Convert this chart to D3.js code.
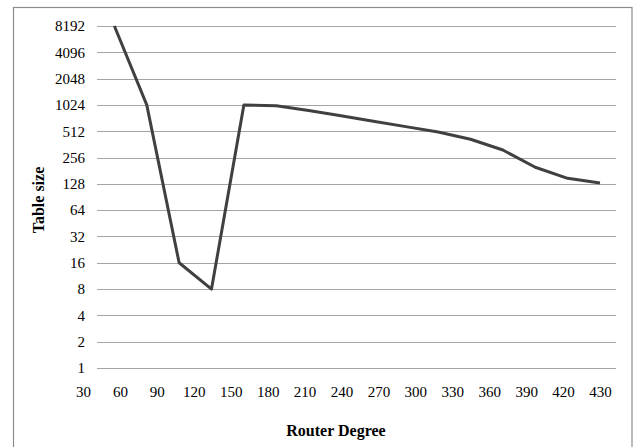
<!DOCTYPE html>
<html>
<head>
<meta charset="utf-8">
<script src="https://cdn.jsdelivr.net/npm/d3@7"></script>
<style>
  html, body { margin: 0; padding: 0; background: #fff; }
  svg { display: block; }
  text { font-family: "Liberation Serif", "Times New Roman", serif; fill: #000; }
</style>
</head>
<body>
<svg id="chart" width="635" height="447"></svg>
<script>
// ---- data ----
const xTickLabels = [30, 60, 90, 120, 150, 180, 210, 240, 270, 300, 330, 360, 390, 420, 430];
const yTickValues = [1, 2, 4, 8, 16, 32, 64, 128, 256, 512, 1024, 2048, 4096, 8192];
const routerDegree = [55, 80, 105, 130, 155, 180, 205, 230, 255, 280, 305, 330, 355, 380, 405, 430];
const tableSize = [8192, 1024, 16, 8, 1024, 1000, 883, 769, 665, 578, 501, 414, 312, 198, 148, 131];
const xTitle = "Router Degree";
const yTitle = "Table size";

// ---- layout ----
const svg = d3.select("#chart");
const plot = { left: 97, right: 616, top: 26, bottom: 368 };
const serif = '"Liberation Serif", "Times New Roman", serif';

// outer frame
svg.append("rect")
  .attr("x", 13.5).attr("y", 7.5)
  .attr("width", 618.5).attr("height", 450)
  .attr("fill", "none").attr("stroke", "#8c8c8c").attr("stroke-width", 1.2);

const y = d3.scaleLog().base(2).domain([1, 8192]).range([plot.bottom, plot.top]);
const xLabelScale = d3.scalePoint().domain(xTickLabels).range([83, 600]);
const x = d3.scaleLinear().domain([30, 430]).range([82, 600]);

// gridlines
svg.append("g").selectAll("line")
  .data(yTickValues)
  .join("line")
  .attr("x1", plot.left).attr("x2", plot.right)
  .attr("y1", d => Math.round(y(d)) + 0.5).attr("y2", d => Math.round(y(d)) + 0.5)
  .attr("stroke", "#a4a4a4").attr("stroke-width", 1.2);

// y axis labels
const yAxis = svg.append("g")
  .attr("transform", `translate(${plot.left},0)`)
  .call(d3.axisLeft(y).tickValues(yTickValues).tickFormat(d3.format("d")).tickSize(0).tickPadding(12));
yAxis.select(".domain").remove();
yAxis.selectAll("text").style("font-size", "15px").style("font-family", serif).attr("fill", "#000");

// x axis labels
const xAxis = svg.append("g")
  .attr("transform", `translate(0,${plot.bottom})`)
  .call(d3.axisBottom(xLabelScale).tickSize(0).tickPadding(18));
xAxis.select(".domain").remove();
xAxis.selectAll("text").style("font-size", "15px").style("font-family", serif).attr("fill", "#000");

// line
const data = routerDegree.map((d, i) => ({ x: d, y: tableSize[i] }));
svg.append("path")
  .datum(data)
  .attr("fill", "none")
  .attr("stroke", "#404040")
  .attr("stroke-width", 3)
  .attr("stroke-linejoin", "round")
  .attr("d", d3.line().x(d => x(d.x)).y(d => y(d.y)));

// titles
svg.append("text")
  .attr("x", 336).attr("y", 436)
  .attr("text-anchor", "middle")
  .style("font-size", "16px").style("font-weight", "bold")
  .text(xTitle);

svg.append("text")
  .attr("transform", "translate(44,200) rotate(-90)")
  .attr("text-anchor", "middle")
  .style("font-size", "16px").style("font-weight", "bold")
  .text(yTitle);
</script>
</body>
</html>
